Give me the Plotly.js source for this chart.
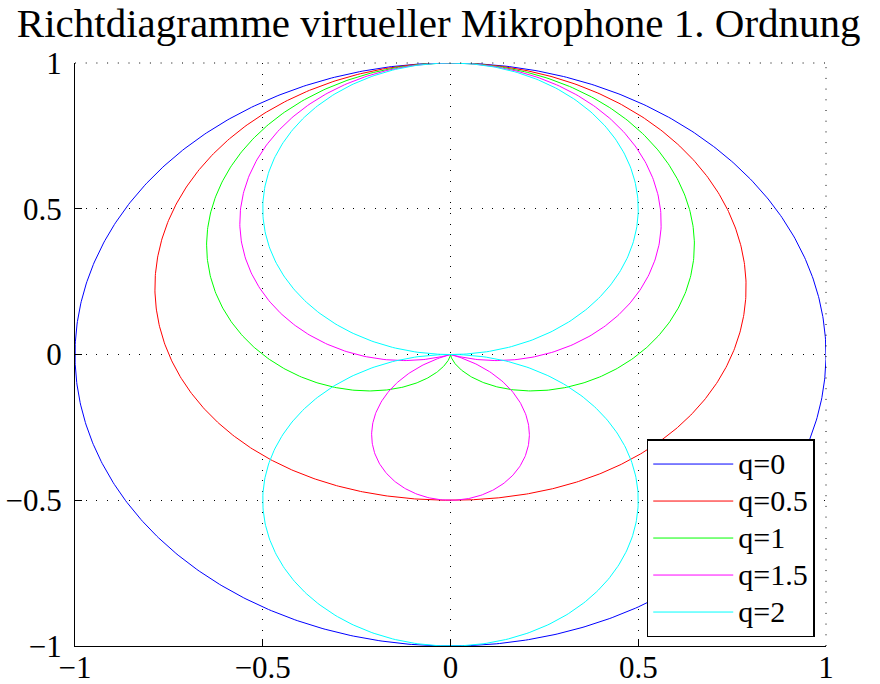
<!DOCTYPE html>
<html>
<head>
<meta charset="utf-8">
<script src="https://cdn.plot.ly/plotly-3.0.1.min.js"></script>
<style>html,body{margin:0;padding:0;background:#fff;}#chart{width:880px;height:684px;}</style>
</head>
<body>
<div id="chart"></div>
<script>
// Pattern order parameter q of each virtual first-order microphone
const qValues = [0, 0.5, 1, 1.5, 2];
const seriesNames = ['q=0', 'q=0.5', 'q=1', 'q=1.5', 'q=2'];
const tickVals = [-1, -0.5, 0, 0.5, 1];
const tickText = ['\u22121', '\u22120.5', '0', '0.5', '1'];
const titleText = 'Richtdiagramme virtueller Mikrophone 1. Ordnung';

const colors = ['#0000ff', '#ff0000', '#00ff00', '#ff00ff', '#00ffff'];
const nSamples = 721;

// Directivity of a first-order mic: r(theta) = |(1 - q/2) + (q/2) cos(theta)|
const traces = qValues.map((q, i) => {
  const xs = [], ys = [];
  for (let k = 0; k < nSamples; k++) {
    const th = 2 * Math.PI * k / (nSamples - 1);
    const r = Math.abs((1 - q / 2) + (q / 2) * Math.cos(th));
    xs.push(r * Math.sin(th));
    ys.push(r * Math.cos(th));
  }
  return {
    x: xs, y: ys, type: 'scatter', mode: 'lines',
    name: '<span style="font-size:30px">' + seriesNames[i] + '</span>',
    line: {color: colors[i], width: 1}
  };
});

const font = {family: '"Liberation Serif", "Times New Roman", serif', color: '#000'};
const dotDash = '1px,9.7px';
const axisCommon = {
  range: [-1, 1], tickvals: tickVals, ticktext: tickText,
  showline: true, linecolor: '#000', linewidth: 1, mirror: false,
  ticks: 'inside', ticklen: 7, tickcolor: '#000', tickwidth: 1,
  showgrid: true, gridcolor: '#000', gridwidth: 1, griddash: dotDash,
  zeroline: false, tickfont: Object.assign({size: 31}, font), fixedrange: true
};

const layout = {
  width: 880, height: 684,
  margin: {l: 75, r: 54, t: 63, b: 38},
  paper_bgcolor: '#fff', plot_bgcolor: '#fff',
  title: {text: titleText, font: Object.assign({size: 41}, font), x: 0.4985, xref: 'container', xanchor: 'center', y: 0.988, yref: 'container', yanchor: 'top'},
  xaxis: Object.assign({}, axisCommon, {ticklabelstandoff: -6}),
  yaxis: Object.assign({}, axisCommon, {ticklabelstandoff: 6}),
  shapes: [
    {type: 'line', xref: 'paper', yref: 'paper', x0: 0, x1: 1, y0: 1, y1: 1, line: {color: '#000', width: 1, dash: dotDash}},
    {type: 'line', xref: 'paper', yref: 'paper', x0: 1, x1: 1, y0: 0, y1: 1, line: {color: '#000', width: 1, dash: dotDash}}
  ],
  showlegend: true,
  legend: {
    x: 0.985, y: 0.355, xanchor: 'right', yanchor: 'top',
    bgcolor: '#fff', bordercolor: '#000', borderwidth: 1.5,
    font: Object.assign({size: 26.1538}, font), itemwidth: 80, tracegroupgap: 0
  }
};

Plotly.newPlot('chart', traces, layout, {displayModeBar: false, staticPlot: true});
</script>
</body>
</html>
